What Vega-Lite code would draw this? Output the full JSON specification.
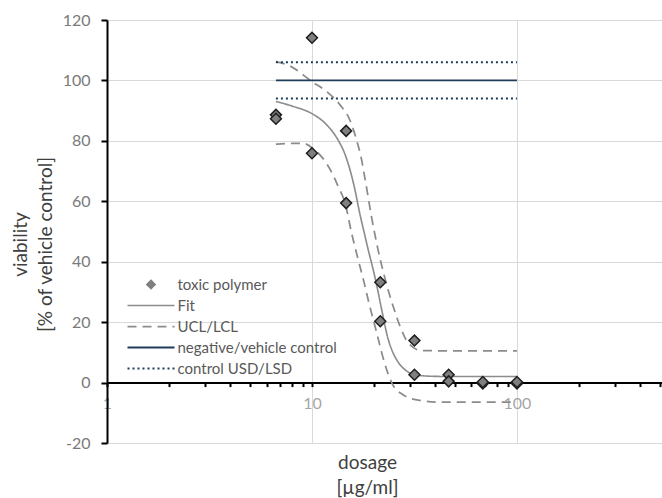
{
  "$schema": "https://vega.github.io/schema/vega-lite/v6.json",
  "width": 555,
  "height": 423,
  "autosize": {"type": "none"},
  "padding": {"left": 107, "top": 20, "right": 0, "bottom": 55},
  "background": "white",
  "view": {"stroke": null},
  "config": {"font": "Lato"},
  "datasets": {
    "points": [
      {"dose": 6.67, "viability": 88.6, "series": "toxic polymer"},
      {"dose": 6.67, "viability": 87.3, "series": "toxic polymer"},
      {"dose": 10, "viability": 114.1, "series": "toxic polymer"},
      {"dose": 10, "viability": 75.9, "series": "toxic polymer"},
      {"dose": 14.68, "viability": 83.3, "series": "toxic polymer"},
      {"dose": 14.68, "viability": 59.4, "series": "toxic polymer"},
      {"dose": 21.54, "viability": 33.2, "series": "toxic polymer"},
      {"dose": 21.54, "viability": 20.3, "series": "toxic polymer"},
      {"dose": 31.62, "viability": 13.9, "series": "toxic polymer"},
      {"dose": 31.62, "viability": 2.6, "series": "toxic polymer"},
      {"dose": 46.42, "viability": 2.6, "series": "toxic polymer"},
      {"dose": 46.42, "viability": 0.4, "series": "toxic polymer"},
      {"dose": 68.13, "viability": -0.3, "series": "toxic polymer"},
      {"dose": 68.13, "viability": 0.2, "series": "toxic polymer"},
      {"dose": 100, "viability": -0.3, "series": "toxic polymer"},
      {"dose": 100, "viability": 0.2, "series": "toxic polymer"}
    ],
    "curves": [
      {"dose": 6.67, "viability": 93.0, "series": "Fit", "line": "Fit"},
      {"dose": 8.1, "viability": 91.4, "series": "Fit", "line": "Fit"},
      {"dose": 10, "viability": 89.0, "series": "Fit", "line": "Fit"},
      {"dose": 11.8, "viability": 85.3, "series": "Fit", "line": "Fit"},
      {"dose": 13.4, "viability": 80.3, "series": "Fit", "line": "Fit"},
      {"dose": 14.5, "viability": 75.5, "series": "Fit", "line": "Fit"},
      {"dose": 15.6, "viability": 68.5, "series": "Fit", "line": "Fit"},
      {"dose": 16.3, "viability": 63, "series": "Fit", "line": "Fit"},
      {"dose": 17.1, "viability": 56, "series": "Fit", "line": "Fit"},
      {"dose": 18.0, "viability": 49.5, "series": "Fit", "line": "Fit"},
      {"dose": 18.8, "viability": 44, "series": "Fit", "line": "Fit"},
      {"dose": 19.7, "viability": 38.5, "series": "Fit", "line": "Fit"},
      {"dose": 20.5, "viability": 33.5, "series": "Fit", "line": "Fit"},
      {"dose": 21.9, "viability": 24, "series": "Fit", "line": "Fit"},
      {"dose": 23.5, "viability": 14.5, "series": "Fit", "line": "Fit"},
      {"dose": 25.0, "viability": 9.5, "series": "Fit", "line": "Fit"},
      {"dose": 26.5, "viability": 6.5, "series": "Fit", "line": "Fit"},
      {"dose": 29, "viability": 3.8, "series": "Fit", "line": "Fit"},
      {"dose": 32.4, "viability": 2.5, "series": "Fit", "line": "Fit"},
      {"dose": 38, "viability": 2.1, "series": "Fit", "line": "Fit"},
      {"dose": 47, "viability": 2.0, "series": "Fit", "line": "Fit"},
      {"dose": 100, "viability": 2.0, "series": "Fit", "line": "Fit"},
      {"dose": 6.67, "viability": 106.2, "series": "UCL/LCL", "line": "UCL"},
      {"dose": 7.8, "viability": 104.8, "series": "UCL/LCL", "line": "UCL"},
      {"dose": 10, "viability": 99.6, "series": "UCL/LCL", "line": "UCL"},
      {"dose": 11.8, "viability": 96.3, "series": "UCL/LCL", "line": "UCL"},
      {"dose": 13.7, "viability": 91.9, "series": "UCL/LCL", "line": "UCL"},
      {"dose": 15.3, "viability": 86.9, "series": "UCL/LCL", "line": "UCL"},
      {"dose": 16.5, "viability": 80.3, "series": "UCL/LCL", "line": "UCL"},
      {"dose": 17.3, "viability": 75, "series": "UCL/LCL", "line": "UCL"},
      {"dose": 18.3, "viability": 66, "series": "UCL/LCL", "line": "UCL"},
      {"dose": 19.5, "viability": 55, "series": "UCL/LCL", "line": "UCL"},
      {"dose": 21, "viability": 44, "series": "UCL/LCL", "line": "UCL"},
      {"dose": 22.9, "viability": 33.5, "series": "UCL/LCL", "line": "UCL"},
      {"dose": 24.9, "viability": 25.2, "series": "UCL/LCL", "line": "UCL"},
      {"dose": 26.9, "viability": 18.6, "series": "UCL/LCL", "line": "UCL"},
      {"dose": 29.5, "viability": 13.1, "series": "UCL/LCL", "line": "UCL"},
      {"dose": 34.2, "viability": 10.6, "series": "UCL/LCL", "line": "UCL"},
      {"dose": 50, "viability": 10.5, "series": "UCL/LCL", "line": "UCL"},
      {"dose": 100, "viability": 10.5, "series": "UCL/LCL", "line": "UCL"},
      {"dose": 6.67, "viability": 78.9, "series": "UCL/LCL", "line": "LCL"},
      {"dose": 9.0, "viability": 79.2, "series": "UCL/LCL", "line": "LCL"},
      {"dose": 10.3, "viability": 77, "series": "UCL/LCL", "line": "LCL"},
      {"dose": 11.6, "viability": 73.2, "series": "UCL/LCL", "line": "LCL"},
      {"dose": 12.5, "viability": 69.5, "series": "UCL/LCL", "line": "LCL"},
      {"dose": 13.4, "viability": 65, "series": "UCL/LCL", "line": "LCL"},
      {"dose": 14.5, "viability": 59.4, "series": "UCL/LCL", "line": "LCL"},
      {"dose": 15.6, "viability": 49.5, "series": "UCL/LCL", "line": "LCL"},
      {"dose": 16.8, "viability": 40.7, "series": "UCL/LCL", "line": "LCL"},
      {"dose": 17.9, "viability": 33.5, "series": "UCL/LCL", "line": "LCL"},
      {"dose": 18.8, "viability": 27.4, "series": "UCL/LCL", "line": "LCL"},
      {"dose": 20.7, "viability": 16.4, "series": "UCL/LCL", "line": "LCL"},
      {"dose": 22.6, "viability": 6.5, "series": "UCL/LCL", "line": "LCL"},
      {"dose": 24.5, "viability": -0.1, "series": "UCL/LCL", "line": "LCL"},
      {"dose": 27.8, "viability": -4, "series": "UCL/LCL", "line": "LCL"},
      {"dose": 33.6, "viability": -5.9, "series": "UCL/LCL", "line": "LCL"},
      {"dose": 43.6, "viability": -6.5, "series": "UCL/LCL", "line": "LCL"},
      {"dose": 100, "viability": -6.5, "series": "UCL/LCL", "line": "LCL"},
      {"dose": 6.67, "viability": 100, "series": "negative/vehicle control", "line": "control"},
      {"dose": 100, "viability": 100, "series": "negative/vehicle control", "line": "control"},
      {"dose": 6.67, "viability": 106, "series": "control USD/LSD", "line": "USD"},
      {"dose": 100, "viability": 106, "series": "control USD/LSD", "line": "USD"},
      {"dose": 6.67, "viability": 94, "series": "control USD/LSD", "line": "LSD"},
      {"dose": 100, "viability": 94, "series": "control USD/LSD", "line": "LSD"}
    ]
  },
  "layer": [
    {
      "data": {"name": "curves"},
      "mark": {"type": "line", "strokeCap": "butt", "interpolate": "monotone"},
      "encoding": {
        "x": {
          "field": "dose", "type": "quantitative",
          "scale": {"type": "log", "domain": [1, 510], "nice": false},
          "axis": {"orient": "top", "values": [1, 10, 100], "grid": true, "gridColor": "#d9d9d9", "gridWidth": 1, "labels": false, "ticks": false, "domain": false, "title": null, "zindex": 0}
        },
        "y": {
          "field": "viability", "type": "quantitative",
          "scale": {"domain": [-20, 120], "nice": false, "zero": false},
          "axis": {
            "values": [-20, 0, 20, 40, 60, 80, 100, 120],
            "grid": true, "gridColor": "#d9d9d9", "gridWidth": 1,
            "domainColor": "#000000", "domainWidth": 2,
            "tickColor": "#000000", "tickWidth": 2, "tickSize": 6,
            "labelPadding": 11, "labelFont": "Lato", "labelFontSize": 16, "labelColor": "#7a7a7a",
            "labelExpr": "replace(datum.label, '\u2212', '-')",
            "title": ["\u00a0\u00a0\u00a0\u00a0\u00a0\u00a0\u00a0\u00a0viability", "[% of vehicle control]"],
            "titleFont": "Lato", "titleFontSize": 19, "titleFontWeight": "normal", "titleColor": "#404040",
            "titleLineHeight": 25, "titleX": -96, "titleY": 224, "titleBaseline": "top", "titleAlign": "center",
            "zindex": 0
          }
        },
        "color": {
          "field": "series", "type": "nominal",
          "scale": {"domain": ["toxic polymer", "Fit", "UCL/LCL", "negative/vehicle control", "control USD/LSD"], "range": ["#7f7f7f", "#8c8c8c", "#8c8c8c", "#1f3b5b", "#1f3b5b"]},
          "legend": {
            "orient": "none", "legendX": 36.5, "legendY": 257, "title": null, "padding": 0,
            "labelFont": "Lato", "labelFontSize": 15, "labelColor": "#595959",
            "symbolSize": 100, "labelOffset": 19, "rowPadding": 5,
            "encode": {
              "symbols": {
                "update": {
                  "shape": {"signal": "datum.value === 'toxic polymer' ? 'diamond' : 'M-4.7,0H4.7'"},
                  "size": {"signal": "datum.value === 'toxic polymer' ? 70 : 100"},
                  "fill": {"signal": "datum.value === 'toxic polymer' ? '#7f7f7f' : 'transparent'"},
                  "stroke": {"signal": "datum.value === 'toxic polymer' ? '#262626' : (datum.value === 'Fit' || datum.value === 'UCL/LCL') ? '#8c8c8c' : '#1f3b5b'"},
                  "strokeDash": {"signal": "datum.value === 'UCL/LCL' ? [9, 6] : datum.value === 'control USD/LSD' ? [2, 3] : [1, 0]"},
                  "strokeWidth": {"signal": "datum.value === 'toxic polymer' ? 1.5 : datum.value === 'negative/vehicle control' ? 3 : datum.value === 'control USD/LSD' ? 2.5 : 2"},
                  "opacity": {"value": 1}
                }
              }
            }
          }
        },
        "strokeDash": {
          "field": "series", "type": "nominal",
          "scale": {"domain": ["toxic polymer", "Fit", "UCL/LCL", "negative/vehicle control", "control USD/LSD"], "range": [[1, 0], [1, 0], [9, 6], [1, 0], [2, 3]]},
          "legend": null
        },
        "strokeWidth": {
          "field": "series", "type": "nominal",
          "scale": {"domain": ["toxic polymer", "Fit", "UCL/LCL", "negative/vehicle control", "control USD/LSD"], "range": [1.5, 2, 2.25, 3, 2.5]},
          "legend": null
        },
        "detail": {"field": "line", "type": "nominal"}
      }
    },
    {
      "data": {"name": "points"},
      "mark": {"type": "point", "shape": "diamond", "filled": true, "size": 120, "stroke": "#1e1e1e", "strokeWidth": 1.5, "opacity": 1},
      "encoding": {
        "x": {
          "field": "dose", "type": "quantitative",
          "scale": {"type": "log", "domain": [1, 510], "nice": false},
          "axis": {
            "orient": "bottom", "offset": -60.43,
            "values": [1, 2, 3, 4, 5, 6, 7, 8, 9, 10, 20, 30, 40, 50, 60, 70, 80, 90, 100, 200, 300, 400, 500],
            "grid": false, "domainColor": "#000000", "domainWidth": 2,
            "tickColor": "#000000", "tickWidth": 2, "tickSize": 4,
            "labelPadding": 9, "labelFont": "Lato", "labelFontSize": 16, "labelColor": "#a6a6a6",
            "labelExpr": "datum.value == 1 || datum.value == 10 || datum.value == 100 ? format(datum.value, 'd') : ''",
            "labelFlush": false, "labelOverlap": false,
            "title": ["dosage", "[µg/ml]"],
            "titleFont": "Lato", "titleFontSize": 19, "titleFontWeight": "normal", "titleColor": "#404040",
            "titleLineHeight": 25, "titleX": 260, "titleY": 71, "titleBaseline": "top", "titleAlign": "center",
            "zindex": 0
          }
        },
        "y": {
          "field": "viability", "type": "quantitative",
          "scale": {"domain": [-20, 120], "nice": false, "zero": false},
          "axis": {
            "values": [-20, 0, 20, 40, 60, 80, 100, 120],
            "grid": true, "gridColor": "#d9d9d9", "gridWidth": 1,
            "domainColor": "#000000", "domainWidth": 2,
            "tickColor": "#000000", "tickWidth": 2, "tickSize": 6,
            "labelPadding": 11, "labelFont": "Lato", "labelFontSize": 16, "labelColor": "#7a7a7a",
            "labelExpr": "replace(datum.label, '\u2212', '-')",
            "title": ["\u00a0\u00a0\u00a0\u00a0\u00a0\u00a0\u00a0\u00a0viability", "[% of vehicle control]"],
            "titleFont": "Lato", "titleFontSize": 19, "titleFontWeight": "normal", "titleColor": "#404040",
            "titleLineHeight": 25, "titleX": -96, "titleY": 224, "titleBaseline": "top", "titleAlign": "center",
            "zindex": 0
          }
        },
        "color": {
          "field": "series", "type": "nominal",
          "scale": {"domain": ["toxic polymer", "Fit", "UCL/LCL", "negative/vehicle control", "control USD/LSD"], "range": ["#7f7f7f", "#8c8c8c", "#8c8c8c", "#1f3b5b", "#1f3b5b"]}
        }
      }
    }
  ],
  "resolve": {"axis": {"x": "independent"}}
}
